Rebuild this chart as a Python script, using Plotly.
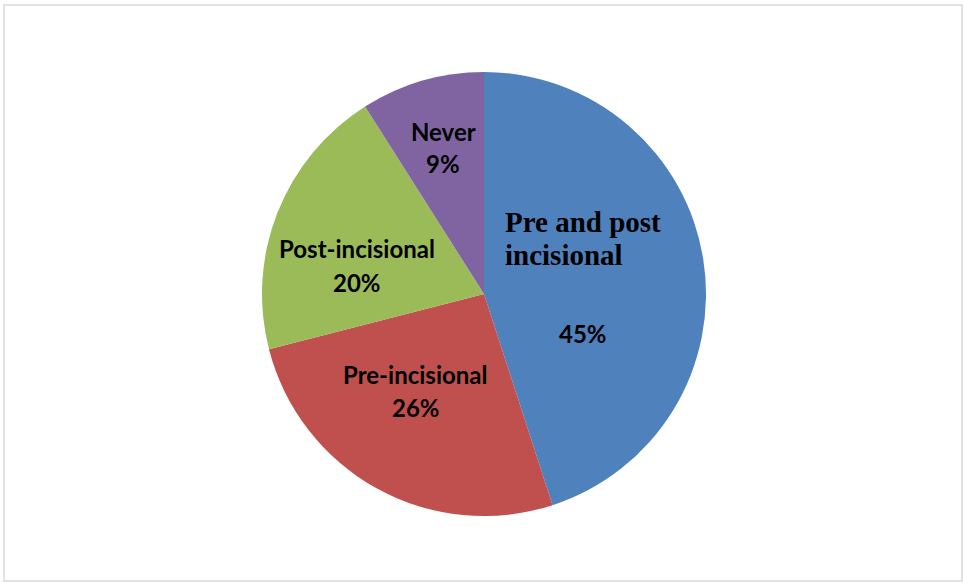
import plotly.graph_objects as go

# Timing of analgesic administration
labels = ["Pre and post incisional", "Pre-incisional", "Post-incisional", "Never"]
values = [45, 26, 20, 9]
colors = ["#4F81BD", "#C0504D", "#9BBB59", "#8064A2"]

W, H = 963, 583
cx, cy, r = 484, 294, 222


def px(x):
    return x / W


def py(y):
    return 1 - y / H


fig = go.Figure(
    go.Pie(
        labels=labels,
        values=values,
        marker=dict(colors=colors, line=dict(width=0)),
        sort=False,
        direction="clockwise",
        rotation=0,
        textinfo="none",
        hoverinfo="label+percent",
        showlegend=False,
        domain=dict(x=[px(cx - r), px(cx + r)], y=[py(cy + r), py(cy - r)]),
    )
)

sans = dict(family="Lato", size=24, color="black")
serif = dict(family="Liberation Serif", size=29, color="black")

# (name x, name y, percent x, percent y) in pixels
label_pos = {
    "Pre-incisional": (415, 374, 416, 407),
    "Post-incisional": (357, 248, 357, 282),
    "Never": (443, 132, 443, 163),
}


def note(x, y, text, font, xanchor="center"):
    return dict(x=px(x), y=py(y), xanchor=xanchor, yanchor="middle",
                text=text, font=font, showarrow=False)


ann = []
for lab, val in zip(labels, values):
    if lab == "Pre and post incisional":
        first, second = "Pre and post", "incisional"
        ann.append(note(503, 222, f"<b>{first}</b>", serif, "left"))
        ann.append(note(503, 255, f"<b>{second}</b>", serif, "left"))
        ann.append(note(583, 333, f"<b>{val}%</b>", sans))
    else:
        x1, y1, x2, y2 = label_pos[lab]
        ann.append(note(x1, y1, f"<b>{lab}</b>", sans))
        ann.append(note(x2, y2, f"<b>{val}%</b>", sans))

fig.update_layout(
    width=W, height=H,
    margin=dict(l=0, r=0, t=0, b=0),
    paper_bgcolor="white",
    plot_bgcolor="white",
    annotations=ann,
    shapes=[dict(
        type="rect", xref="paper", yref="paper",
        x0=px(4), x1=px(962), y0=py(581), y1=py(5),
        line=dict(color="#D9D9D9", width=1.5),
    )],
)

fig.write_html("out.html")
